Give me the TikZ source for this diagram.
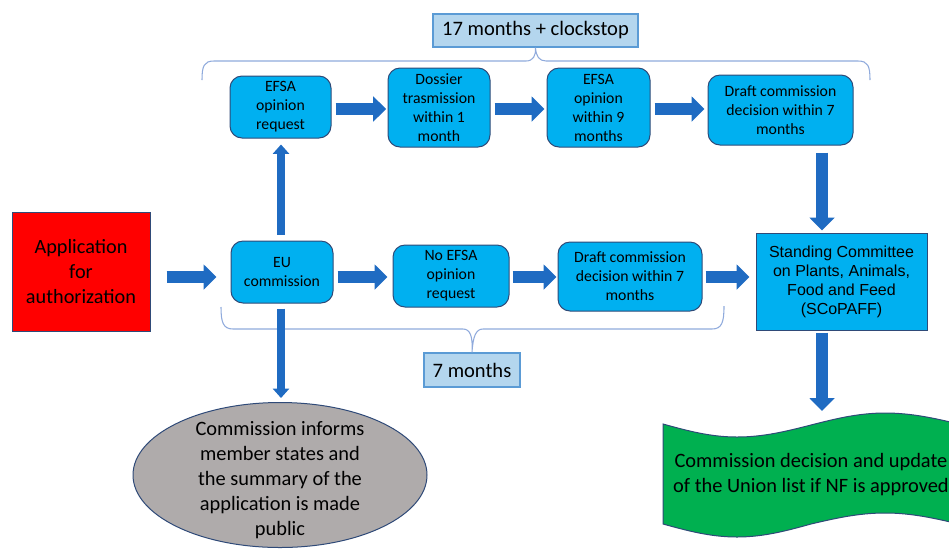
\documentclass[tikz,border=0pt]{standalone}
\usepackage{fontspec}
\setmainfont{Carlito}
\newfontfamily\arialf{Liberation Sans}
\usetikzlibrary{arrows.meta,shapes.geometric,calc}
\definecolor{boxblue}{HTML}{00B0F0}
\definecolor{boxline}{HTML}{2F4A78}
\definecolor{arrowblue}{HTML}{1F6BC2}
\definecolor{labfill}{HTML}{B4D6EE}
\definecolor{labline}{HTML}{5B9BD5}
\definecolor{braceblue}{HTML}{8FAADC}
\definecolor{appred}{HTML}{FF0000}
\definecolor{ellgray}{HTML}{AFABAB}
\definecolor{decgreen}{HTML}{00B050}
\begin{document}
\begin{tikzpicture}[x=0.75pt,y=-0.75pt,
  rbox/.style={draw=boxline, line width=0.75pt, fill=boxblue, rounded corners=9pt,
    align=center, inner sep=0pt, font=\fontsize{11.8}{14.25}\selectfont},
  labbox/.style={draw=labline, line width=0.9pt, fill=labfill, inner sep=0pt,
    font=\fontsize{15.4}{18}\selectfont},
  bigarrow/.style={draw=arrowblue, line width=8.5pt, -{Triangle[length=9.75pt,width=18.5pt]}},
  smallarrow/.style={draw=arrowblue, line width=5.5pt, -{Triangle[length=7pt,width=12pt]}},
  bracestyle/.style={draw=braceblue, line width=0.8pt}]
\useasboundingbox (0,0) rectangle (949,551);
\clip (0,0) rectangle (949,551);

\coordinate (row1) at (0,109);
\coordinate (row2) at (0,277);
\coordinate (colA) at (281,0);
\coordinate (colB) at (822,0);

% nodes
\node[draw=boxline, line width=0.75pt, fill=appred, minimum width=103.5pt, minimum height=89.25pt,
  align=center, inner sep=0pt, font=\fontsize{15.2}{18.4}\selectfont] (app) at (81,271.5)
  {Application\\for\\authorization};
\node[rbox, minimum width=76.5pt, minimum height=46.5pt] (eu) at (282,272) {EU\\commission};
\node[rbox, minimum width=87pt, minimum height=46.5pt] (noefsa) at (451,276) {No EFSA\\opinion\\request};
\node[rbox, minimum width=108pt, minimum height=51.75pt] (draft2) at (630,276.5) {Draft commission\\decision within 7\\months};
\node[draw=boxline, line width=0.75pt, fill=boxblue, minimum width=128.25pt, minimum height=72.75pt,
  align=center, inner sep=0pt, font=\arialf\fontsize{12}{14.25}\selectfont] (scopaff) at (841.5,281.5)
  {Standing Committee\\on Plants, Animals,\\Food and Feed\\(SCoPAFF)};
\node[rbox, minimum width=75.75pt, minimum height=46.5pt] (efsareq) at (280.5,107) {EFSA\\opinion\\request};
\node[rbox, minimum width=76.5pt, minimum height=59.25pt] (dossier) at (439,107.5) {Dossier\\trasmission\\within 1\\month};
\node[rbox, minimum width=77.25pt, minimum height=59.25pt] (efsa9) at (598.5,107.5) {EFSA\\opinion\\within 9\\months};
\node[rbox, minimum width=108.75pt, minimum height=52.5pt] (draft1) at (780.5,110) {Draft commission\\decision within 7\\months};

\node[ellipse, draw=boxline, line width=0.75pt, fill=ellgray, minimum width=220.5pt,
  minimum height=108.75pt, inner sep=0pt] (ell) at (280,475) {};
\node[align=center, inner sep=0pt, font=\fontsize{15.3}{18.75}\selectfont] (elltext) at (280,480)
  {Commission informs\\member states and\\the summary of the\\application is made\\public};

\node[labbox, minimum width=153.75pt, minimum height=24.75pt] (toplab) at (535.5,30.5) {17 months + clockstop};
\node[labbox, minimum width=72pt, minimum height=25.5pt] (botlab) at (472,370) {7 months};

% green decision tape
\draw[draw=boxline, line width=0.75pt, fill=decgreen]
  (663,424) sin (737,437) cos (811,425) sin (885,413) cos (959,424)
  -- (959,524) sin (885,513) cos (811,524) sin (737,537) cos (663,524) -- cycle;
\node[align=center, inner sep=0pt, font=\fontsize{15.3}{18.75}\selectfont] (dec) at (811,475)
  {Commission decision and update\\of the Union list if NF is approved};
\coordinate (gtop) at (822,411);

% braces
\draw[bracestyle] (202,80) .. controls (202,66) and (204,61) .. (214,61) -- (526,61)
  .. controls (533,61) and (536,56) .. (toplab.south) .. controls (536,56) and (539,61) .. (546,61)
  -- (858,61) .. controls (868,61) and (870,66) .. (870,80);
\draw[bracestyle] (221,307) .. controls (221,322) and (223,329) .. (233,329) -- (463,329)
  .. controls (470,329) and (473,336) .. (botlab.north) .. controls (473,336) and (476,329) .. (483,329)
  -- (712,329) .. controls (722,329) and (724,322) .. (724,306);

% arrows
\draw[bigarrow, shorten <=12pt, shorten >=10.5pt] (app.east |- row2) -- (eu.west |- row2);
\draw[bigarrow, shorten <=3pt, shorten >=3.75pt] (eu.east |- row2) -- (noefsa.west |- row2);
\draw[bigarrow, shorten <=2.25pt, shorten >=0.75pt] (noefsa.east |- row2) -- (draft2.west |- row2);
\draw[bigarrow, shorten <=2.25pt, shorten >=4.5pt] (draft2.east |- row2) -- (scopaff.west |- row2);
\draw[bigarrow, shorten <=3pt, shorten >=1pt] (efsareq.east |- row1) -- (dossier.west |- row1);
\draw[bigarrow, shorten <=3pt, shorten >=1.5pt] (dossier.east |- row1) -- (efsa9.west |- row1);
\draw[bigarrow, shorten <=3pt, shorten >=2.25pt] (efsa9.east |- row1) -- (draft1.west |- row1);
\draw[smallarrow, shorten <=4.5pt, shorten >=4.5pt] (eu.north -| colA) -- (efsareq.south -| colA);
\draw[smallarrow, shorten <=3.75pt, shorten >=3pt] (eu.south -| colA) -- (ell.north -| colA);
\draw[bigarrow, shorten <=5.25pt, shorten >=1.5pt] (draft1.south -| colB) -- (scopaff.north -| colB);
\draw[bigarrow, shorten <=1.5pt] (scopaff.south -| colB) -- (gtop);
\end{tikzpicture}
\end{document}
